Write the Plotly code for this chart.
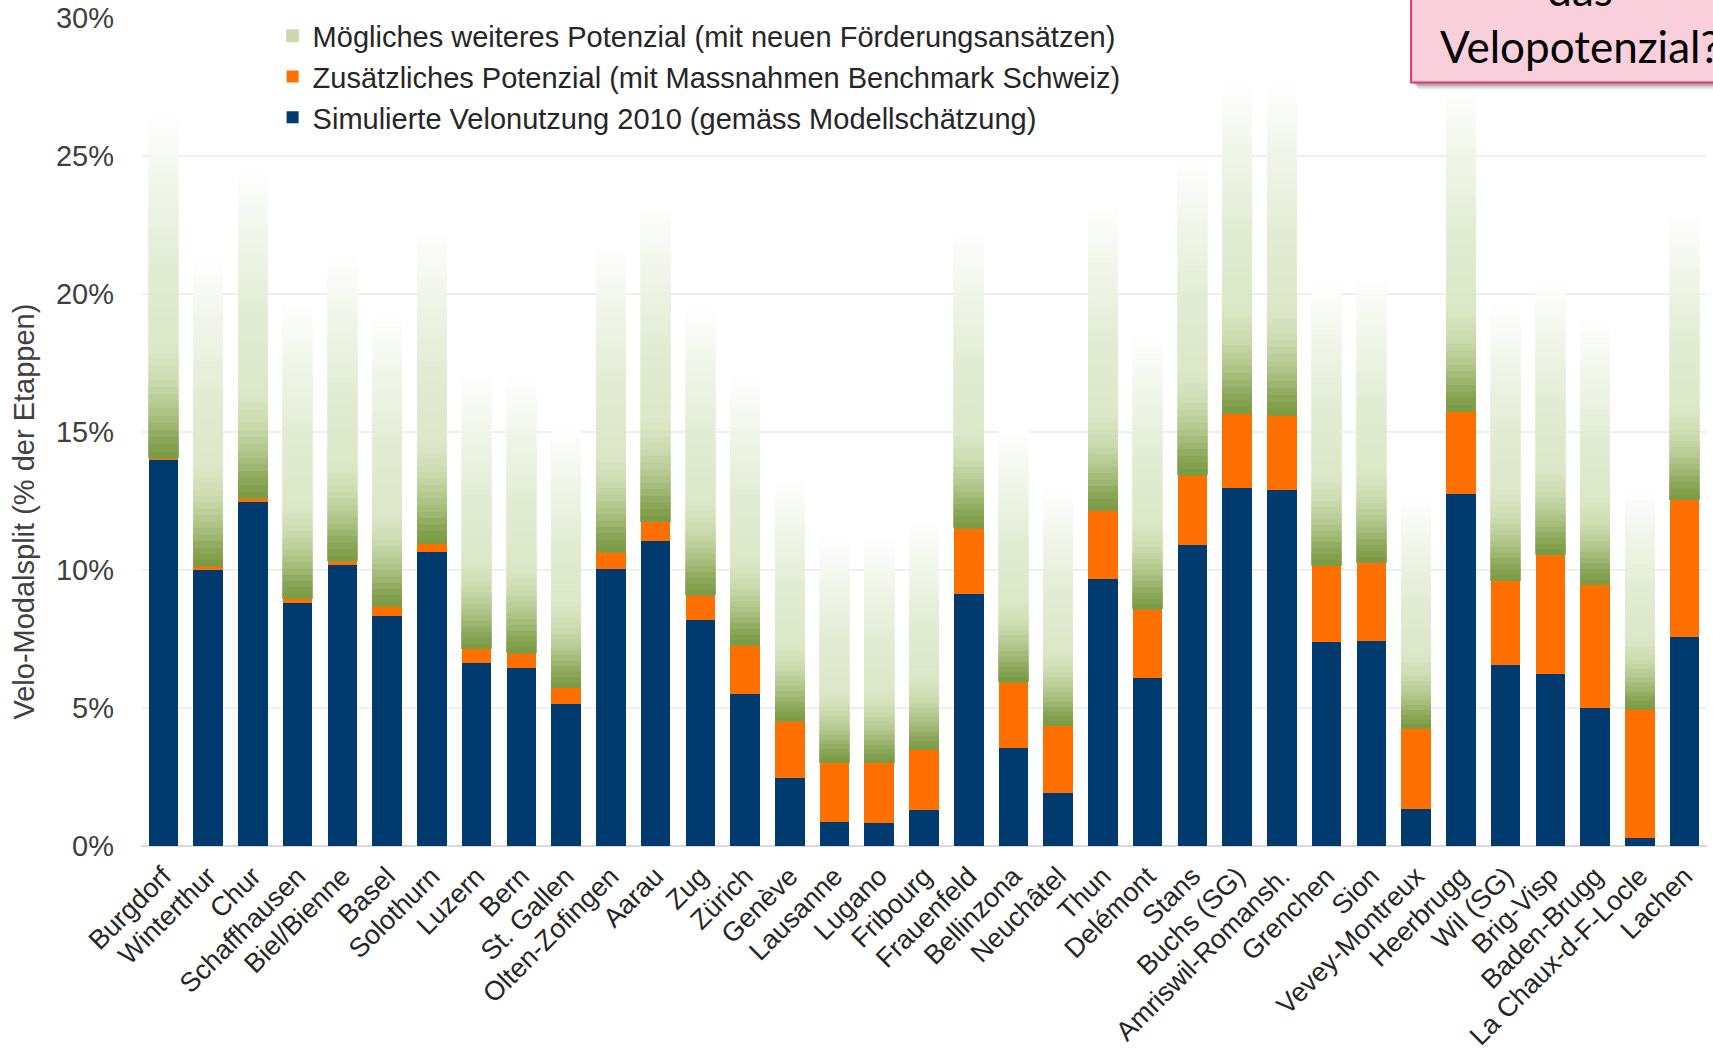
import plotly.graph_objects as go

categories = ["Burgdorf", "Winterthur", "Chur", "Schaffhausen", "Biel/Bienne", "Basel",
              "Solothurn", "Luzern", "Bern", "St. Gallen", "Olten-Zofingen", "Aarau", "Zug",
              "Zürich", "Genève", "Lausanne", "Lugano", "Fribourg", "Frauenfeld", "Bellinzona",
              "Neuchâtel", "Thun", "Delémont", "Stans", "Buchs (SG)", "Amriswil-Romansh.",
              "Grenchen", "Sion", "Vevey-Montreux", "Heerbrugg", "Wil (SG)", "Brig-Visp",
              "Baden-Brugg", "La Chaux-d-F-Locle", "Lachen"]

# Simulierte Velonutzung 2010 (gemäss Modellschätzung)
simuliert = [14.0, 10.0, 12.45, 8.8, 10.17, 8.33, 10.66, 6.63, 6.45, 5.16, 10.05, 11.05, 8.18,
             5.5, 2.48, 0.88, 0.83, 1.29, 9.12, 3.56, 1.92, 9.66, 6.1, 10.91, 12.98, 12.89,
             7.38, 7.44, 1.34, 12.74, 6.55, 6.24, 5.01, 0.30, 7.57]
# Zusätzliches Potenzial (mit Massnahmen Benchmark Schweiz)
zusaetzlich = [0.05, 0.13, 0.15, 0.15, 0.14, 0.35, 0.29, 0.51, 0.54, 0.58, 0.6, 0.69, 0.9,
               1.77, 2.04, 2.14, 2.19, 2.19, 2.39, 2.38, 2.44, 2.48, 2.47, 2.52, 2.68, 2.71,
               2.78, 2.83, 2.91, 3.01, 3.06, 4.32, 4.46, 4.65, 4.98]
# Mögliches weiteres Potenzial (mit neuen Förderungsansätzen)
moeglich = [12.5, 11.2, 11.95, 10.75, 11.09, 10.57, 11.4, 9.96, 10.0, 9.46, 11.15, 11.5, 10.5,
            9.73, 8.78, 8.18, 8.08, 8.22, 10.79, 9.11, 8.54, 11.06, 9.93, 11.47, 12.04, 12.05,
            10.29, 10.38, 8.35, 11.75, 9.99, 9.89, 9.58, 7.95, 10.35]

y_ticks = [0, 5, 10, 15, 20, 25, 30]
y_tick_labels = ["0%", "5%", "10%", "15%", "20%", "25%", "30%"]

names = ["Simulierte Velonutzung 2010 (gemäss Modellschätzung)",
         "Zusätzliches Potenzial (mit Massnahmen Benchmark Schweiz)",
         "Mögliches weiteres Potenzial (mit neuen Förderungsansätzen)"]

BLUE = "#003b6f"
ORANGE = "#ff7000"

# gradient (bottom -> top) used for the "Mögliches weiteres Potenzial" segment
grad_stops = [(0.00, (122, 153, 68)), (0.05, (136, 165, 86)), (0.13, (172, 194, 132)),
              (0.23, (205, 220, 177)), (0.32, (220, 231, 199)), (0.55, (226, 236, 211)),
              (0.75, (238, 244, 230)), (0.90, (248, 250, 245)), (1.00, (255, 255, 255))]


def grad_color(t):
    for (t0, c0), (t1, c1) in zip(grad_stops[:-1], grad_stops[1:]):
        if t0 <= t <= t1:
            f = (t - t0) / (t1 - t0)
            c = [round(a + (b - a) * f) for a, b in zip(c0, c1)]
            return "rgb(%d,%d,%d)" % tuple(c)
    return "rgb(255,255,255)"


FONT = "Arial, 'Liberation Sans', sans-serif"
fig = go.Figure()

fig.add_trace(go.Bar(x=categories, y=simuliert, name=names[0], marker_color=BLUE,
                     marker_line_width=0, legendrank=3))
fig.add_trace(go.Bar(x=categories, y=zusaetzlich, name=names[1], marker_color=ORANGE,
                     marker_line_width=0, legendrank=2))

N = 48
for i in range(N):
    t = (i + 0.5) / N
    col = grad_color(t)
    fig.add_trace(go.Bar(x=categories, y=[v / N for v in moeglich], name=names[2],
                         marker=dict(color=col, line=dict(color=col, width=0.8)),
                         showlegend=(i == 10), legendrank=1,
                         hoverinfo="skip" if i else None))

W, H = 1713, 1055
ml, mr, mt, mb = 141.4, 5.6, 17.5, 209.4
pw, ph = W - ml - mr, H - mt - mb


def px_x(p):
    return (p - ml) / pw


def px_y(p):
    return (H - mb - p) / ph


fig.update_layout(
    template="none",
    width=W, height=H,
    margin=dict(l=ml, r=mr, t=mt, b=mb, pad=0, autoexpand=False),
    barmode="stack", bargap=0.34,
    plot_bgcolor="white", paper_bgcolor="white",
    font=dict(family=FONT, size=29, color="#262626"),
    legend=dict(x=px_x(273), y=px_y(10), xanchor="left", yanchor="top",
                traceorder="normal",
                bgcolor="rgba(0,0,0,0)", font=dict(size=29, color="#262626")),
    xaxis=dict(tickangle=-45, tickfont=dict(size=27, color="#262626"), automargin=False,
               showgrid=False, showline=False, zeroline=False, ticks="", ticklabelstandoff=8),
    yaxis=dict(range=[0, 30], tickmode="array", tickvals=y_ticks, ticktext=y_tick_labels,
               automargin=False, ticks="",
               tickfont=dict(size=29, color="#404040"), ticklabelstandoff=26,
               showgrid=True, gridcolor="#efefef", gridwidth=1.5,
               zeroline=True, zerolinecolor="#d9d9d9", zerolinewidth=2, showline=False),
    hovermode="closest",
)

fig.add_annotation(xref="paper", yref="paper", x=px_x(24), y=px_y(511.5),
                   text="Velo-Modalsplit (% der Etappen)", textangle=-90, showarrow=False,
                   font=dict(size=29, color="#404040"), xanchor="center", yanchor="middle")

# pink call-out box (cut off at the top-right edge, as in the source slide)
bx0, by0 = px_x(1411.5), px_y(82)
for k, op in [(7, 0.08), (5, 0.12), (3, 0.18)]:
    fig.add_shape(type="rect", xref="paper", yref="paper", layer="above",
                  x0=bx0 + k / pw, x1=1.2, y0=by0 - k / ph, y1=1.3,
                  fillcolor="rgba(0,0,0,%.2f)" % op, line_width=0)
fig.add_shape(type="rect", xref="paper", yref="paper", layer="above",
              x0=bx0, x1=1.2, y0=by0, y1=1.3,
              fillcolor="#f9cfdb", line=dict(color="#e5336b", width=2))
fig.add_annotation(xref="paper", yref="paper", x=px_x(1438), y=px_y(74),
                   xanchor="left", yanchor="bottom", align="center", showarrow=False,
                   text="das<br>Velopotenzial?",
                   font=dict(family="Lato, 'Open Sans', sans-serif", size=44, color="#000000"))

fig.write_html("out.html", config={"displayModeBar": False},
               post_script="document.body.style.margin='0';document.body.style.overflow='hidden';")
